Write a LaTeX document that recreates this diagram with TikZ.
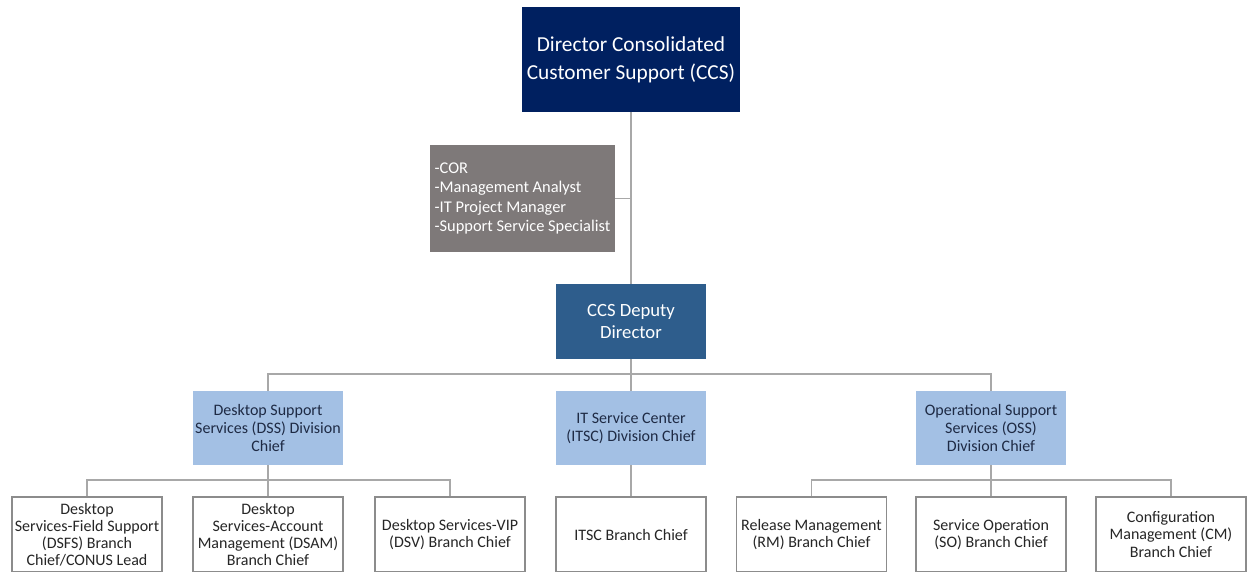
\documentclass[tikz,border=0pt]{standalone}
\usepackage{fontspec}
\setmainfont{Carlito}
\usetikzlibrary{positioning}
\definecolor{ccsnavy}{HTML}{002060}
\definecolor{ccsdeputy}{HTML}{2E5D8C}
\definecolor{ccslight}{HTML}{A3C0E4}
\definecolor{ccsgray}{HTML}{7E7979}
\definecolor{ccsline}{HTML}{A8A8A8}
\definecolor{ccsedge}{HTML}{8C8C8C}
\definecolor{ccstext}{HTML}{1E2A44}
\newcommand{\pxu}{0.75pt}

\begin{document}
\begin{tikzpicture}[x=\pxu,y=-\pxu,
  dirbox/.style={fill=ccsnavy,text=white,minimum width=214*\pxu,minimum height=105*\pxu,
    align=center,font=\fontsize{16}{21}\selectfont},
  staffbox/.style={fill=ccsgray,text=white,minimum width=185*\pxu,minimum height=107*\pxu,
    align=left,font=\fontsize{12.3}{14.5}\selectfont},
  depbox/.style={fill=ccsdeputy,text=white,minimum width=150*\pxu,minimum height=75*\pxu,
    align=center,font=\fontsize{14}{16}\selectfont},
  divbox/.style={fill=ccslight,text=ccstext,minimum width=150*\pxu,minimum height=74*\pxu,
    inner xsep=1pt,align=center,font=\fontsize{12}{13.5}\selectfont},
  branchbox/.style={draw=ccsedge,line width=0.8pt,fill=white,text=black!85,
    minimum width=150*\pxu,minimum height=75*\pxu,inner xsep=1pt,align=center,
    font=\fontsize{12}{12.8}\selectfont},
  conn/.style={draw=ccsline,line width=0.8pt}]
  \useasboundingbox (0,0) rectangle (1249,571);
  \clip (0,0) rectangle (1249,571);

  % top of the chart
  \node[dirbox] (dir) at (631,59.5) {Director Consolidated\\Customer Support (CCS)};
  \node[staffbox] (staff) at (522.5,198.5) {-COR\\-Management Analyst\\-IT Project Manager\\-Support Service Specialist};
  \node[depbox] (dep) at (631,321.5) {CCS Deputy\\Director};

  % division chiefs
  \node[divbox] (dss) at (268,428) {Desktop Support\\Services (DSS) Division\\Chief};
  \node[divbox] (itsc) at (631,428) {IT Service Center\\(ITSC) Division Chief};
  \node[divbox] (oss) at (991,428) {Operational Support\\Services (OSS)\\Division Chief};

  % branch chiefs
  \node[branchbox] (dsfs) at (87,534.5) {Desktop\\Services-Field Support\\(DSFS) Branch\\Chief/CONUS Lead};
  \node[branchbox] (dsam) at (268,534.5) {Desktop\\Services-Account\\Management (DSAM)\\Branch Chief};
  \node[branchbox] (dsv) at (450,534.5) {Desktop Services-VIP\\(DSV) Branch Chief};
  \node[branchbox] (itscb) at (631,534.5) {ITSC Branch Chief};
  \node[branchbox] (rm) at (811.5,534.5) {Release Management\\(RM) Branch Chief};
  \node[branchbox] (so) at (991,534.5) {Service Operation\\(SO) Branch Chief};
  \node[branchbox] (cm) at (1171,534.5) {Configuration\\Management (CM)\\Branch Chief};

  \coordinate (bus1) at (631,374); % deputy to divisions
  \coordinate (bus2) at (268,480); % DSS branches
  \coordinate (bus3) at (991,480); % OSS branches

  \draw[conn] (dir.south) -- (dep.north);
  \draw[conn] (staff.east) -- (staff.east -| dir.south);
  \draw[conn] (dep.south) -- (itsc.north);
  \draw[conn] (dss.north) |- (bus1) -| (oss.north);
  \draw[conn] (dss.south) -- (dsam.north);
  \draw[conn] (dsfs.north) |- (bus2) -| (dsv.north);
  \draw[conn] (itsc.south) -- (itscb.north);
  \draw[conn] (oss.south) -- (so.north);
  \draw[conn] (rm.north) |- (bus3) -| (cm.north);
\end{tikzpicture}
\end{document}
